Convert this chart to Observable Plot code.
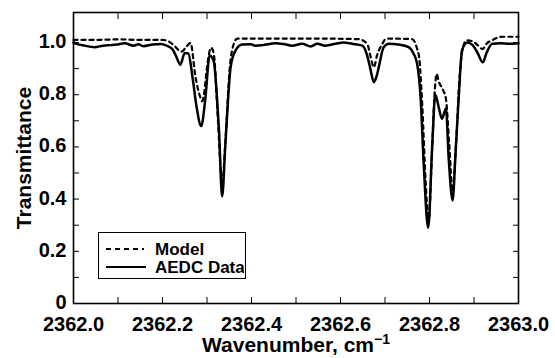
<!DOCTYPE html>
<html><head><meta charset="utf-8">
<script src="https://cdn.jsdelivr.net/npm/d3@7"></script>
<script src="https://cdn.jsdelivr.net/npm/@observablehq/plot@0.6"></script>
<style>
body{margin:0;background:#fff;}
#wrap{position:relative;width:555px;height:358px;font-family:"Liberation Sans",Arial,Helvetica,sans-serif;}
#legend{position:absolute;left:98px;top:232px;width:148px;height:47px;border:1.5px solid #000;box-sizing:border-box;background:#fff;}
</style></head><body><div id="wrap"></div>
<script>
// AEDC measured data
const dataW = [2362.000,2362.007,2362.025,2362.047,2362.067,2362.083,2362.097,2362.115,2362.135,2362.146,2362.157,2362.178,2362.196,2362.209,2362.222,2362.230,2362.240,2362.250,2362.258,2362.268,2362.276,2362.287,2362.296,2362.306,2362.315,2362.322,2362.327,2362.334,2362.341,2362.348,2362.353,2362.364,2362.379,2362.398,2362.409,2362.425,2362.454,2362.472,2362.491,2362.514,2362.533,2362.548,2362.566,2362.589,2362.607,2362.626,2362.649,2362.660,2362.667,2362.675,2362.681,2362.686,2362.697,2362.709,2362.730,2362.753,2362.764,2362.772,2362.780,2362.787,2362.797,2362.806,2362.813,2362.821,2362.828,2362.837,2362.843,2362.852,2362.858,2362.866,2362.873,2362.885,2362.897,2362.908,2362.920,2362.928,2362.941,2362.960,2362.978,2363.000];
const dataT = [1.000,0.995,0.988,0.982,0.988,0.990,0.992,0.997,0.988,0.993,0.986,0.992,0.994,0.988,0.975,0.950,0.915,0.960,0.958,0.860,0.760,0.680,0.780,0.950,0.930,0.800,0.663,0.410,0.600,0.800,0.905,0.969,0.992,0.993,0.988,0.990,0.997,0.994,0.988,0.995,0.985,0.995,0.988,0.995,1.000,0.995,0.988,0.950,0.900,0.848,0.870,0.905,0.982,0.995,0.992,0.982,0.958,0.920,0.790,0.535,0.290,0.600,0.800,0.750,0.708,0.747,0.560,0.395,0.560,0.800,0.970,1.000,0.990,0.960,0.924,0.960,0.995,0.997,0.995,0.997];
// Model
const modelW = [2362.000,2362.050,2362.100,2362.150,2362.200,2362.213,2362.225,2362.243,2362.254,2362.263,2362.274,2362.285,2362.289,2362.293,2362.300,2362.309,2362.315,2362.324,2362.334,2362.342,2362.351,2362.357,2362.368,2362.450,2362.550,2362.640,2362.660,2362.667,2362.675,2362.682,2362.694,2362.703,2362.761,2362.772,2362.777,2362.784,2362.791,2362.798,2362.806,2362.812,2362.816,2362.821,2362.831,2362.837,2362.844,2362.852,2362.860,2362.867,2362.875,2362.883,2362.897,2362.908,2362.919,2362.928,2362.942,2362.964,2363.000];
const modelT = [1.010,1.010,1.012,1.010,1.010,1.005,0.990,0.965,0.985,0.998,0.870,0.790,0.775,0.800,0.905,0.980,0.960,0.720,0.460,0.640,0.900,0.975,1.015,1.015,1.015,1.013,0.995,0.950,0.905,0.950,0.995,1.015,1.013,0.977,0.940,0.750,0.480,0.310,0.600,0.820,0.880,0.850,0.816,0.784,0.620,0.430,0.620,0.850,0.980,1.008,1.005,0.990,0.975,0.995,1.010,1.022,1.022];
// Ticks
const xTickLabels = [2362.0,2362.2,2362.4,2362.6,2362.8,2363.0];
const xMinorTicks = [2362.0,2362.1,2362.2,2362.3,2362.4,2362.5,2362.6,2362.7,2362.8,2362.9,2363.0];
const yTickLabels = [0,0.2,0.4,0.6,0.8,1.0];
const yMinorTicks = [0,0.1,0.2,0.3,0.4,0.5,0.6,0.7,0.8,0.9,1.0];
const seriesNames = ["Model","AEDC Data"];

const aedc = dataW.map((w,i)=>({w, t:dataT[i]}));
const model = modelW.map((w,i)=>({w, t:modelT[i]}));
const FONT = '"Liberation Sans", Arial, Helvetica, sans-serif';

const chart = Plot.plot({
  width:555, height:358,
  marginTop:12, marginRight:37, marginBottom:55, marginLeft:73,
  style:{fontFamily:FONT, fontSize:"20px", fontWeight:"bold", color:"#000", background:"#fff"},
  x:{domain:[2362,2363]},
  y:{domain:[0,1.115]},
  marks:[
    Plot.axisX(xTickLabels, {anchor:"bottom", tickSize:0, tickPadding:13, tickFormat:d=>d.toFixed(1), label:null}),
    Plot.axisX(xMinorTicks, {anchor:"bottom", tickSize:-6, tickFormat:()=>"", label:null}),
    Plot.axisX(xMinorTicks, {anchor:"top", tickSize:-6, tickFormat:()=>"", label:null}),
    Plot.axisY(yTickLabels, {anchor:"left", tickSize:0, tickPadding:7, dy:-1, tickFormat:d=>d===0?"0":d.toFixed(1), label:null}),
    Plot.axisY(yMinorTicks, {anchor:"left", tickSize:-6, tickFormat:()=>"", label:null}),
    Plot.axisY(yMinorTicks, {anchor:"right", tickSize:-6, tickFormat:()=>"", label:null}),
    Plot.frame({stroke:"#000", strokeWidth:1.6}),
    Plot.line(model, {x:"w", y:"t", stroke:"#000", strokeWidth:2.2, strokeDasharray:"4,4", curve:"monotone-x"}),
    Plot.line(aedc, {x:"w", y:"t", stroke:"#000", strokeWidth:2.5, curve:"monotone-x"})
  ]
});
const wrap = document.getElementById("wrap");
wrap.appendChild(chart);

// Axis titles
const svgNS = "http://www.w3.org/2000/svg";
function addText(txt, x, y, rot, size){
  const t = document.createElementNS(svgNS,"text");
  t.setAttribute("x",x); t.setAttribute("y",y);
  t.setAttribute("text-anchor","middle");
  t.setAttribute("font-family",FONT); t.setAttribute("font-weight","bold");
  t.setAttribute("font-size",size); t.setAttribute("fill","#000");
  if (rot) t.setAttribute("transform",`rotate(${rot},${x},${y})`);
  t.innerHTML = txt;
  chart.appendChild(t);
}
addText('Wavenumber, cm<tspan dy="-8" font-size="14">−1</tspan>', 296, 352, 0, 21);
addText('Transmittance', 31, 158, -90, 21);

// Legend
const leg = document.createElement("div");
leg.id = "legend";
leg.innerHTML = `<svg width="145" height="44" style="position:absolute;left:0;top:0">
  <line x1="7" x2="45" y1="16" y2="16" stroke="#000" stroke-width="2.2" stroke-dasharray="5,4"/>
  <line x1="7" x2="47" y1="34" y2="34" stroke="#000" stroke-width="2.2"/>
  <text x="56" y="22" font-family='${FONT}' font-weight="bold" font-size="17">${seriesNames[0]}</text>
  <text x="56" y="40" font-family='${FONT}' font-weight="bold" font-size="17">${seriesNames[1]}</text>
</svg>`;
wrap.appendChild(leg);
</script>
</body></html>
